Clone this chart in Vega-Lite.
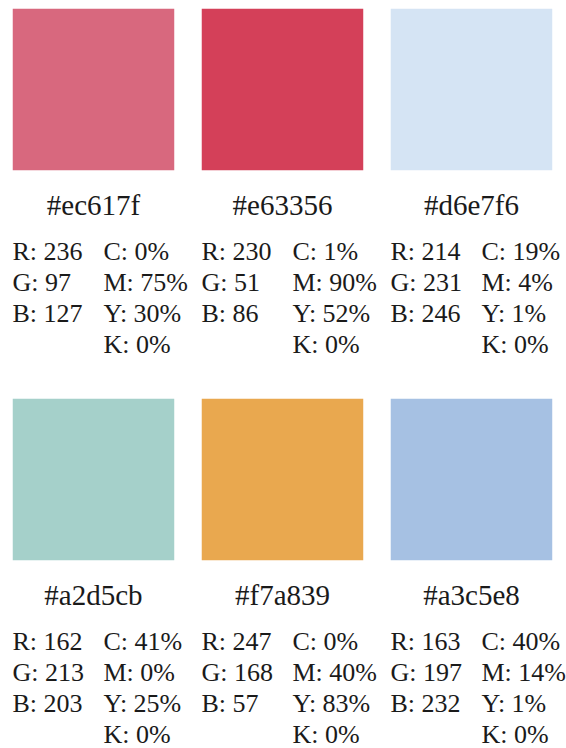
{
  "$schema": "https://vega.github.io/schema/vega-lite/v6.json",
  "width": 566,
  "height": 748,
  "autosize": {"type": "fit", "contains": "padding"},
  "padding": 0,
  "background": "white",
  "config": {"view": {"stroke": null}, "font": "Liberation Serif"},
  "data": {
    "values": [
      {"col": 0, "row": 0, "hex": "#ec617f", "shown": "#d8687e", "rgb": ["R: 236", "G: 97", "B: 127"], "cmyk": ["C: 0%", "M: 75%", "Y: 30%", "K: 0%"]},
      {"col": 1, "row": 0, "hex": "#e63356", "shown": "#d44059", "rgb": ["R: 230", "G: 51", "B: 86"], "cmyk": ["C: 1%", "M: 90%", "Y: 52%", "K: 0%"]},
      {"col": 2, "row": 0, "hex": "#d6e7f6", "shown": "#d5e4f4", "rgb": ["R: 214", "G: 231", "B: 246"], "cmyk": ["C: 19%", "M: 4%", "Y: 1%", "K: 0%"]},
      {"col": 0, "row": 1, "hex": "#a2d5cb", "shown": "#a5d0ca", "rgb": ["R: 162", "G: 213", "B: 203"], "cmyk": ["C: 41%", "M: 0%", "Y: 25%", "K: 0%"]},
      {"col": 1, "row": 1, "hex": "#f7a839", "shown": "#e9a84f", "rgb": ["R: 247", "G: 168", "B: 57"], "cmyk": ["C: 0%", "M: 40%", "Y: 83%", "K: 0%"]},
      {"col": 2, "row": 1, "hex": "#a3c5e8", "shown": "#a6c1e3", "rgb": ["R: 163", "G: 197", "B: 232"], "cmyk": ["C: 40%", "M: 14%", "Y: 1%", "K: 0%"]}
    ]
  },
  "encoding": {
    "x": {"field": "col", "type": "quantitative", "scale": {"domain": [-0.4947, 2.4842], "nice": false, "zero": false}, "axis": null},
    "y": {"field": "row", "type": "quantitative", "scale": {"domain": [-0.2295, 1.6885], "nice": false, "zero": false, "reverse": true}, "axis": null}
  },
  "layer": [
    {
      "mark": {"type": "point", "shape": "square", "filled": true, "size": 26082, "opacity": 1, "strokeWidth": 0},
      "encoding": {"color": {"field": "shown", "type": "nominal", "scale": null}}
    },
    {
      "mark": {"type": "text", "font": "Liberation Serif", "fontSize": 29, "align": "center", "baseline": "alphabetic", "dy": 125.5, "color": "#1a1a1a"},
      "encoding": {"text": {"field": "hex", "type": "nominal"}}
    },
    {
      "mark": {"type": "text", "font": "Liberation Serif", "fontSize": 26, "align": "left", "baseline": "alphabetic", "dx": -81, "dy": 170.5, "lineHeight": 31, "color": "#1a1a1a"},
      "encoding": {"text": {"field": "rgb", "type": "nominal"}}
    },
    {
      "mark": {"type": "text", "font": "Liberation Serif", "fontSize": 26, "align": "left", "baseline": "alphabetic", "dx": 10, "dy": 170.5, "lineHeight": 31, "color": "#1a1a1a"},
      "encoding": {"text": {"field": "cmyk", "type": "nominal"}}
    }
  ]
}
